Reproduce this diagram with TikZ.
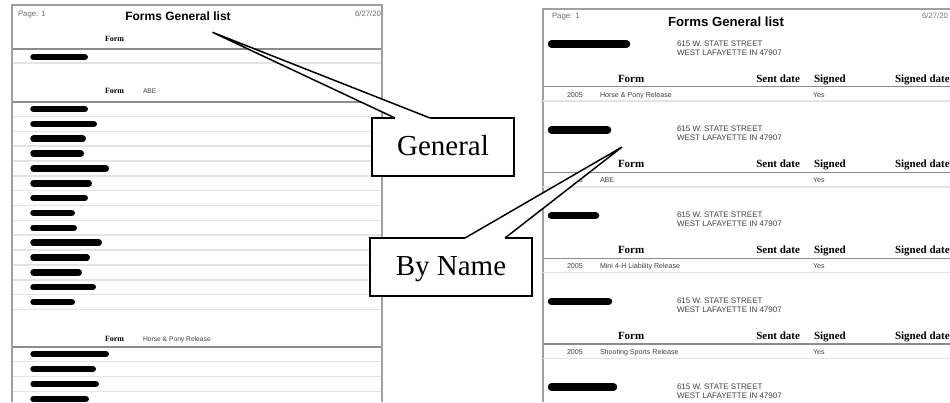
\documentclass[tikz,border=0pt]{standalone}
\usepackage{fontspec}
\setmainfont{Liberation Serif}
\setsansfont{Liberation Sans}
\definecolor{framegray}{HTML}{A0A0A0}
\definecolor{rulegray}{HTML}{8C8C8C}
\definecolor{palegray}{HTML}{E4E4E4}
\definecolor{textgray}{HTML}{707070}
\definecolor{addrgray}{HTML}{404040}
\begin{document}
\begin{tikzpicture}[x=1pt, y=-1pt,
    every node/.style={inner sep=0pt, outer sep=0pt, anchor=base west},
    panelframe/.style={draw=framegray, line width=1.5pt},
    darkline/.style={draw=rulegray, line width=1.2pt},
    lightline/.style={draw=palegray, line width=1.5pt},
    pagetxt/.style={font=\sffamily\fontsize{7.8}{9}\selectfont, text=textgray},
    ltitle/.style={font=\sffamily\bfseries\fontsize{12}{14}\selectfont, anchor=base},
    rtitle/.style={font=\sffamily\bfseries\fontsize{13.2}{15}\selectfont, anchor=base},
    lhead/.style={font=\rmfamily\bfseries\fontsize{8}{9}\selectfont},
    ldata/.style={font=\sffamily\fontsize{6.7}{8}\selectfont, text=addrgray},
    rhead/.style={font=\rmfamily\bfseries\fontsize{11}{13}\selectfont},
    addrtxt/.style={font=\sffamily\fontsize{8}{9}\selectfont, text=addrgray},
    datatxt/.style={font=\sffamily\fontsize{7.1}{8}\selectfont, text=addrgray},
    lbar/.style={line width=6.5pt, line cap=round},
    rbar/.style={line width=7.5pt, line cap=round},
    calloutbox/.style={draw, fill=white, line width=1.5pt, minimum height=58pt, anchor=center, font=\rmfamily\fontsize{29}{32}\selectfont, text height=18pt, text depth=1pt},
    calloutline/.style={line width=1.5pt, line join=miter}]
    \useasboundingbox (0,0) rectangle (950,402);
    \clip (0,0) rectangle (950,402);
    \fill[white] (0,0) rectangle (950,402);

    \draw[lightline] (12,63) -- (382,63);
    \draw[lightline] (12,116.4) -- (382,116.4);
    \draw[lightline] (12,131.3) -- (382,131.3);
    \draw[lightline] (12,146.1) -- (382,146.1);
    \draw[lightline] (12,161) -- (382,161);
    \draw[lightline] (12,175.8) -- (382,175.8);
    \draw[lightline] (12,190.7) -- (382,190.7);
    \draw[lightline] (12,205.5) -- (382,205.5);
    \draw[lightline] (12,220.4) -- (382,220.4);
    \draw[lightline] (12,235.2) -- (382,235.2);
    \draw[lightline] (12,250.1) -- (382,250.1);
    \draw[lightline] (12,264.9) -- (382,264.9);
    \draw[lightline] (12,279.8) -- (382,279.8);
    \draw[lightline] (12,294.6) -- (382,294.6);
    \draw[lightline] (12,309.5) -- (382,309.5);
    \draw[lightline] (12,361.5) -- (382,361.5);
    \draw[lightline] (12,376.5) -- (382,376.5);
    \draw[lightline] (12,391.5) -- (382,391.5);
    \draw[darkline] (12,49) -- (382,49);
    \draw[darkline] (12,102) -- (382,102);
    \draw[darkline] (12,347) -- (382,347);
    \draw[panelframe] (12,402) -- (12,5) -- (382,5) -- (382,402);
    \node[pagetxt] (lpage) at (18,16.5) {Page: 1};
    \node[ltitle] (lreport) at (178,20.5) {Forms General list};
    \node[pagetxt] (ldate) at (355,16.5) {6/27/20};
    \node[lhead] (lform1) at (105,41.3) {Form};
    \node[lhead] (lform2) at (105,93.5) {Form};
    \node[ldata] (lname2) at (143,93.5) {ABE};
    \node[lhead] (lform3) at (105,341.5) {Form};
    \node[ldata] (lname3) at (143,341.5) {Horse \& Pony Release};
    \draw[lbar] (33.5,57) -- (84.75,57);
    \draw[lbar] (33.5,109) -- (84.75,109);
    \draw[lbar] (33.5,123.85) -- (93.75,123.85);
    \draw[lbar] (33.5,138.7) -- (82.75,138.7);
    \draw[lbar] (33.5,153.55) -- (80.75,153.55);
    \draw[lbar] (33.5,168.4) -- (105.75,168.4);
    \draw[lbar] (33.5,183.25) -- (88.75,183.25);
    \draw[lbar] (33.5,198.1) -- (84.75,198.1);
    \draw[lbar] (33.5,212.95) -- (71.75,212.95);
    \draw[lbar] (33.5,227.8) -- (73.75,227.8);
    \draw[lbar] (33.5,242.65) -- (98.75,242.65);
    \draw[lbar] (33.5,257.5) -- (86.75,257.5);
    \draw[lbar] (33.5,272.35) -- (78.75,272.35);
    \draw[lbar] (33.5,287.2) -- (92.75,287.2);
    \draw[lbar] (33.5,302.05) -- (71.75,302.05);
    \draw[lbar] (33.5,354) -- (105.75,354);
    \draw[lbar] (33.5,369) -- (92.75,369);
    \draw[lbar] (33.5,384) -- (95.75,384);
    \draw[lbar] (33.5,399) -- (85.75,399);

    \draw[panelframe] (543,402) -- (543,9) -- (950,9);
    \node[pagetxt] (rpage) at (552,18.8) {Page: 1};
    \node[rtitle] (rreport) at (726,26.5) {Forms General list};
    \node[pagetxt] (rdate) at (922,18.8) {6/27/20};

    \draw[rbar] (551.5,44) -- (626.5,44);
    \node[addrtxt] (raddr1a) at (677,46) {615 W. STATE STREET};
    \node[addrtxt] (raddr1b) at (677,55) {WEST LAFAYETTE IN 47907};
    \node[rhead] (rform1) at (618,82) {Form};
    \node[rhead, anchor=base east] (rsent1) at (800,82) {Sent date};
    \node[rhead] (rsigned1) at (814,82) {Signed};
    \node[rhead] (rsigdate1) at (895,82) {Signed date};
    \draw[darkline] (543,86.5) -- (950,86.5);
    \node[datatxt] (ryear1) at (567,97) {2005};
    \node[datatxt] (rname1) at (600,97) {Horse \& Pony Release};
    \node[datatxt] (ryes1) at (813,97) {Yes};
    \draw[lightline] (543,101) -- (950,101);

    \draw[rbar] (551.5,129.8) -- (607.5,129.8);
    \node[addrtxt] (raddr2a) at (677,131.8) {615 W. STATE STREET};
    \node[addrtxt] (raddr2b) at (677,140.8) {WEST LAFAYETTE IN 47907};
    \node[rhead] (rform2) at (618,167.8) {Form};
    \node[rhead, anchor=base east] (rsent2) at (800,167.8) {Sent date};
    \node[rhead] (rsigned2) at (814,167.8) {Signed};
    \node[rhead] (rsigdate2) at (895,167.8) {Signed date};
    \draw[darkline] (543,172.3) -- (950,172.3);
    \node[datatxt] (ryear2) at (567,182.8) {2005};
    \node[datatxt] (rname2) at (600,182.8) {ABE};
    \node[datatxt] (ryes2) at (813,182.8) {Yes};
    \draw[lightline] (543,186.8) -- (950,186.8);

    \draw[rbar] (551.5,215.6) -- (595.5,215.6);
    \node[addrtxt] (raddr3a) at (677,217.6) {615 W. STATE STREET};
    \node[addrtxt] (raddr3b) at (677,226.6) {WEST LAFAYETTE IN 47907};
    \node[rhead] (rform3) at (618,253.6) {Form};
    \node[rhead, anchor=base east] (rsent3) at (800,253.6) {Sent date};
    \node[rhead] (rsigned3) at (814,253.6) {Signed};
    \node[rhead] (rsigdate3) at (895,253.6) {Signed date};
    \draw[darkline] (543,258.1) -- (950,258.1);
    \node[datatxt] (ryear3) at (567,268.6) {2005};
    \node[datatxt] (rname3) at (600,268.6) {Mini 4-H Liability Release};
    \node[datatxt] (ryes3) at (813,268.6) {Yes};
    \draw[lightline] (543,272.6) -- (950,272.6);

    \draw[rbar] (551.5,301.4) -- (608.5,301.4);
    \node[addrtxt] (raddr4a) at (677,303.4) {615 W. STATE STREET};
    \node[addrtxt] (raddr4b) at (677,312.4) {WEST LAFAYETTE IN 47907};
    \node[rhead] (rform4) at (618,339.4) {Form};
    \node[rhead, anchor=base east] (rsent4) at (800,339.4) {Sent date};
    \node[rhead] (rsigned4) at (814,339.4) {Signed};
    \node[rhead] (rsigdate4) at (895,339.4) {Signed date};
    \draw[darkline] (543,343.9) -- (950,343.9);
    \node[datatxt] (ryear4) at (567,354.4) {2005};
    \node[datatxt] (rname4) at (600,354.4) {Shooting Sports Release};
    \node[datatxt] (ryes4) at (813,354.4) {Yes};
    \draw[lightline] (543,358.4) -- (950,358.4);

    \draw[rbar] (551.5,387.2) -- (613.5,387.2);
    \node[addrtxt] (raddr5a) at (677,389.2) {615 W. STATE STREET};
    \node[addrtxt] (raddr5b) at (677,398.2) {WEST LAFAYETTE IN 47907};

    \node[calloutbox, minimum width=142pt] (general) at (443,147) {General};
    \coordinate (generaltip) at (212.5,32.3);
    \fill[white] ([xshift=23pt, yshift=-1.2pt]general.north west) -- ([xshift=23pt]general.north west) -- (generaltip) -- ([xshift=58pt]general.north west) -- ([xshift=58pt, yshift=-1.2pt]general.north west) -- cycle;
    \draw[calloutline] ([xshift=23pt]general.north west) -- (generaltip) -- ([xshift=58pt]general.north west);

    \node[calloutbox, minimum width=162pt] (byname) at (451,267) {By Name};
    \coordinate (bynametip) at (622,147);
    \fill[white] ([xshift=95pt, yshift=-1.2pt]byname.north west) -- ([xshift=95pt]byname.north west) -- (bynametip) -- ([xshift=135pt]byname.north west) -- ([xshift=135pt, yshift=-1.2pt]byname.north west) -- cycle;
    \draw[calloutline] ([xshift=95pt]byname.north west) -- (bynametip) -- ([xshift=135pt]byname.north west);
\end{tikzpicture}
\end{document}
